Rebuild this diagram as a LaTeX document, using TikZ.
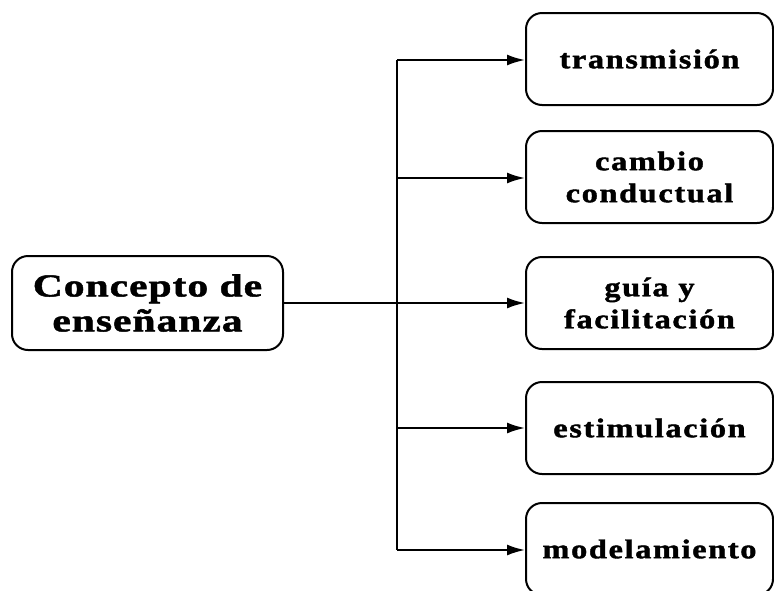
\documentclass[tikz,border=0pt]{standalone}
\usepackage{fontspec}
\setmainfont{Liberation Serif}
\newfontfamily\leftfont{Liberation Serif Bold}[FakeStretch=1.3,LetterSpace=3,FakeBold=1.5]
\newfontfamily\rightfont{Liberation Serif Bold}[FakeStretch=1.2,LetterSpace=6,FakeBold=1.5]
\usetikzlibrary{arrows.meta}
\tikzset{
  box/.style={draw, line width=2pt, rounded corners=16pt, align=center, inner sep=0pt},
  mainbox/.style={box, minimum width=271pt, minimum height=94pt, font=\leftfont\fontsize{32}{35}\selectfont},
  subbox/.style={box, minimum width=247pt, minimum height=92pt, font=\rightfont\fontsize{27}{32}\selectfont},
  conn/.style={line width=2pt},
  arr/.style={conn, -{Latex[length=18pt,width=11pt]}}
}
\begin{document}
\begin{tikzpicture}[x=1pt,y=-1pt]
\useasboundingbox (0,0) rectangle (774,590);
\clip (0,0) rectangle (774,590);
\node[mainbox] (c) at (147.5,303) {Concepto de\\enseñanza};
\node[subbox] (t1) at (649.5,59) {transmisión};
\node[subbox] (t2) at (649.5,177) {cambio\\conductual};
\node[subbox] (t3) at (649.5,303) {guía y\\facilitación};
\node[subbox] (t4) at (649.5,428) {estimulación};
\node[subbox] (t5) at (649.5,549) {modelamiento};
\coordinate (top) at (397,60);
\coordinate (bot) at (397,550);
\draw[conn] (top) -- (bot);
\draw[arr] (c.east) -- (t3.west);
\draw[arr] (top) -- (top -| t1.west);
\draw[arr] (397,178) -- (397,178 -| t2.west);
\draw[arr] (397,428) -- (397,428 -| t4.west);
\draw[arr] (bot) -- (bot -| t5.west);
\end{tikzpicture}
\end{document}
